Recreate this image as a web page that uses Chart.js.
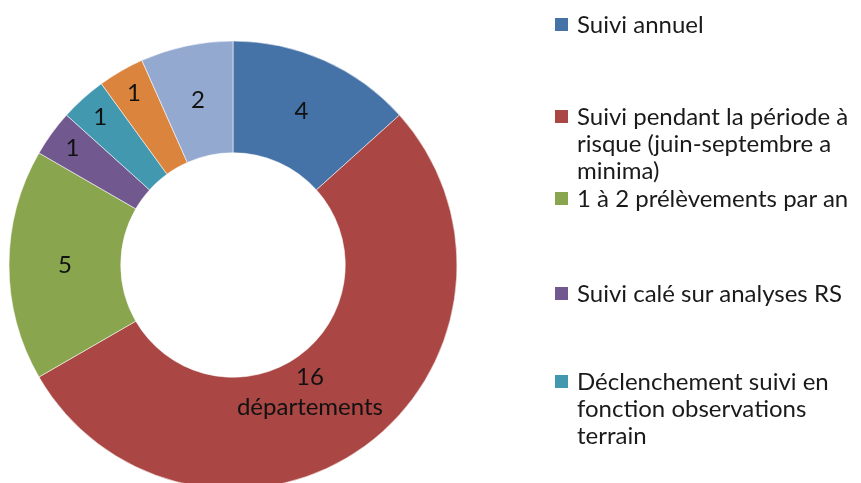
<!DOCTYPE html>
<html lang="fr">
<head>
<meta charset="utf-8">
<script src="https://cdn.jsdelivr.net/npm/chart.js@4/dist/chart.umd.min.js"></script>
<style>
  html, body { margin: 0; padding: 0; background: #fff; }
  body { width: 861px; height: 483px; overflow: hidden; position: relative; font-family: Lato, "Noto Sans", sans-serif; }
  #wrap { position: absolute; left: 0; top: 0; width: 466px; height: 530px; }
  #legend { position: absolute; left: 0; top: 0; width: 861px; height: 483px; }
  .item { position: absolute; left: 577px; width: 292px; font-size: 24px; line-height: 27px; color: #1a1a1a; white-space: normal; }
  .swatch { position: absolute; left: -22px; top: 8px; width: 13px; height: 13px; }
</style>
</head>
<body>
<div id="wrap"><canvas id="chart"></canvas></div>
<div id="legend"></div>
<script>
// Modalités de suivi et nombre de départements concernés
const categories = [
  "Suivi annuel",
  "Suivi pendant la période à risque (juin-septembre a minima)",
  "1 à 2 prélèvements par an",
  "Suivi calé sur analyses RS",
  "Déclenchement suivi en fonction observations terrain",
  "Suivi ponctuel",
  "Autre"
];
const departements = [4, 16, 5, 1, 1, 1, 2];
const unitSuffix = ["", "départements", "", "", "", "", ""];
const sliceColors = ["#4572A7", "#AA4643", "#89A54E", "#71588F", "#4198AF", "#DB843D", "#93A9CF"];

// Legend layout: vertical position of each entry's first line
const legendTops = [10, 102, 184, 279, 367, 490, 578];

const legend = document.getElementById("legend");
categories.forEach((name, i) => {
  const item = document.createElement("div");
  item.className = "item";
  item.style.top = legendTops[i] + "px";
  const sw = document.createElement("span");
  sw.className = "swatch";
  sw.style.background = sliceColors[i];
  item.appendChild(sw);
  item.appendChild(document.createTextNode(name));
  legend.appendChild(item);
});

// Value labels drawn on each ring segment
const sliceLabels = {
  id: "sliceLabels",
  afterDatasetsDraw(chart) {
    const ctx = chart.ctx;
    const meta = chart.getDatasetMeta(0);
    const values = chart.data.datasets[0].data;
    ctx.save();
    ctx.font = "24px Lato, 'Noto Sans', sans-serif";
    ctx.fillStyle = "#111";
    ctx.textAlign = "center";
    ctx.textBaseline = "middle";
    meta.data.forEach((arc, i) => {
      const p = arc.getProps(["x", "y", "startAngle", "endAngle", "innerRadius", "outerRadius"], true);
      const band = p.outerRadius - p.innerRadius;
      // the large multi-line label sits a little further along the ring, near the hole
      const mid = (p.startAngle + p.endAngle) / 2 + (unitSuffix[i] ? 0.086 : 0);
      let r = p.innerRadius + band / 2;
      if (values[i] <= 1) r = p.innerRadius + band * 0.77;
      if (unitSuffix[i]) r = p.innerRadius + band * 0.33;
      const cx = p.x + Math.cos(mid) * r;
      const cy = p.y + Math.sin(mid) * r;
      const lines = [String(values[i])];
      if (unitSuffix[i]) lines.push(unitSuffix[i]);
      const lh = 30;
      lines.forEach((t, k) => {
        ctx.fillText(t, cx, cy + (k - (lines.length - 1) / 2) * lh);
      });
    });
    ctx.restore();
  }
};

new Chart(document.getElementById("chart"), {
  type: "doughnut",
  data: {
    labels: categories,
    datasets: [{
      data: departements,
      backgroundColor: sliceColors,
      borderColor: "rgba(255,255,255,0.55)",
      borderWidth: 1
    }]
  },
  options: {
    responsive: true,
    maintainAspectRatio: false,
    animation: false,
    radius: 224,
    cutout: 112,
    layout: { padding: { left: 9, right: 9, top: 41, bottom: 41 } },
    plugins: {
      legend: { display: false },
      tooltip: { enabled: false }
    }
  },
  plugins: [sliceLabels]
});
</script>
</body>
</html>
